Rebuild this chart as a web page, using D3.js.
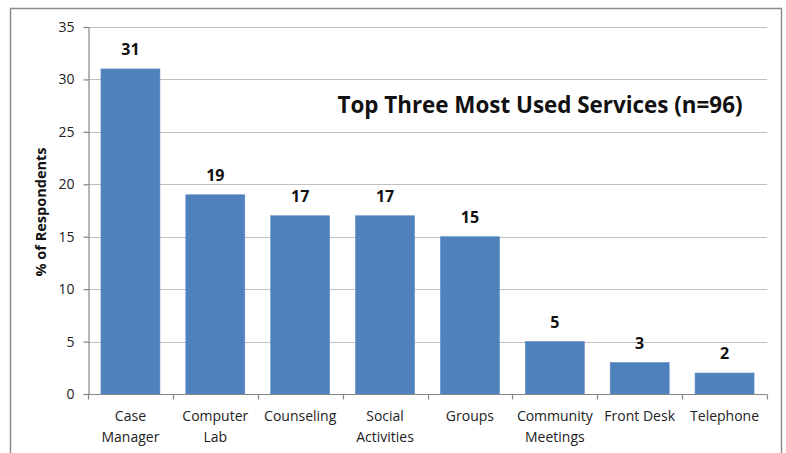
<!DOCTYPE html>
<html>
<head>
<meta charset="utf-8">
<script src="https://cdn.jsdelivr.net/npm/d3@7"></script>
<style>
  html, body { margin: 0; padding: 0; background: #fff; }
  svg { display: block; font-family: "Open Sans", "Lato", sans-serif; }
</style>
</head>
<body>
<svg id="chart" width="786" height="453"></svg>
<script>
// Services ranked by share of respondents naming them among their top three
const categories = [["Case", "Manager"], ["Computer", "Lab"], ["Counseling"], ["Social", "Activities"],
                    ["Groups"], ["Community", "Meetings"], ["Front Desk"], ["Telephone"]];
const values = [31, 19, 17, 17, 15, 5, 3, 2];
const yTicks = [0, 5, 10, 15, 20, 25, 30, 35];
const title = "Top Three Most Used Services (n=96)";
const yTitle = "% of Respondents";

const svg = d3.select("#chart");
const margin = { left: 88, right: 19, top: 27, bottom: 59 };
const W = 786, H = 453;
const plotW = W - margin.left - margin.right;
const plotH = H - margin.top - margin.bottom;

// outer frame
svg.append("rect")
  .attr("x", 10.5).attr("y", 8.5)
  .attr("width", 771).attr("height", 460)
  .attr("fill", "#fff").attr("stroke", "#8c8c8c").attr("stroke-width", 1.5);

const g = svg.append("g").attr("transform", `translate(${margin.left},${margin.top})`);

const x = d3.scaleBand()
  .domain(categories.map((d, i) => i))
  .range([0, plotW])
  .paddingInner(0.305)
  .paddingOuter(0.1525);

const y = d3.scaleLinear().domain([0, 35]).range([plotH, 0]);

// horizontal gridlines
g.append("g")
  .selectAll("line")
  .data(yTicks.filter(t => t > 0))
  .join("line")
  .attr("x1", 0).attr("x2", plotW)
  .attr("y1", d => Math.round(y(d)) + 0.5).attr("y2", d => Math.round(y(d)) + 0.5)
  .attr("stroke", "#c0c0c0").attr("stroke-width", 1.2);

// y axis
const yAxis = g.append("g")
  .attr("transform", "translate(0.5,0)")
  .call(d3.axisLeft(y).tickValues(yTicks).tickSize(5).tickPadding(9));
yAxis.select(".domain").attr("stroke", "#868686").attr("stroke-width", 1.2);
yAxis.selectAll(".tick line").attr("stroke", "#868686").attr("stroke-width", 1.2);
yAxis.selectAll(".tick text")
  .attr("font-size", 14).attr("fill", "#222").attr("font-family", "Open Sans");

// bars
g.append("g")
  .selectAll("rect")
  .data(values)
  .join("rect")
  .attr("x", (d, i) => x(i))
  .attr("y", d => y(d))
  .attr("width", x.bandwidth())
  .attr("height", d => plotH - y(d))
  .attr("fill", "#4f81bd")
  .attr("stroke", "#5d8cc6").attr("stroke-width", 0.6);

// value labels
g.append("g")
  .selectAll("text")
  .data(values)
  .join("text")
  .attr("x", (d, i) => x(i) + x.bandwidth() / 2)
  .attr("y", d => y(d) - 14)
  .attr("text-anchor", "middle")
  .attr("font-size", 16).attr("font-weight", "bold").attr("fill", "#111")
  .text(d => d);

// x axis baseline with tick marks between categories
const xBase = g.append("g").attr("transform", `translate(0,${plotH + 0.5})`);
xBase.append("line")
  .attr("x1", 0).attr("x2", plotW)
  .attr("stroke", "#868686").attr("stroke-width", 1.2);
xBase.selectAll("line.sep")
  .data(d3.range(categories.length + 1))
  .join("line").attr("class", "sep")
  .attr("x1", i => Math.round(i * x.step()) + 0.5)
  .attr("x2", i => Math.round(i * x.step()) + 0.5)
  .attr("y1", 0).attr("y2", 5)
  .attr("stroke", "#868686").attr("stroke-width", 1.2);

// category labels (one or two lines)
const catLabels = g.append("g")
  .selectAll("text")
  .data(categories)
  .join("text")
  .attr("x", (d, i) => x(i) + x.bandwidth() / 2)
  .attr("y", plotH + 27)
  .attr("text-anchor", "middle")
  .attr("font-size", 14).attr("fill", "#222");
catLabels.selectAll("tspan")
  .data(d => d)
  .join("tspan")
  .attr("x", function () { return d3.select(this.parentNode).attr("x"); })
  .attr("dy", (d, i) => i === 0 ? 0 : 21)
  .text(d => d);

// y axis title
svg.append("text")
  .attr("transform", `translate(45.5,212) rotate(-90)`)
  .attr("text-anchor", "middle")
  .attr("font-size", 14.5).attr("font-weight", "bold").attr("fill", "#111")
  .text(yTitle);

// chart title inside the plot area
svg.append("text")
  .attr("x", 540).attr("y", 113)
  .attr("text-anchor", "middle")
  .attr("font-size", 22.4).attr("font-weight", "bold").attr("fill", "#111")
  .text(title);
</script>
</body>
</html>
